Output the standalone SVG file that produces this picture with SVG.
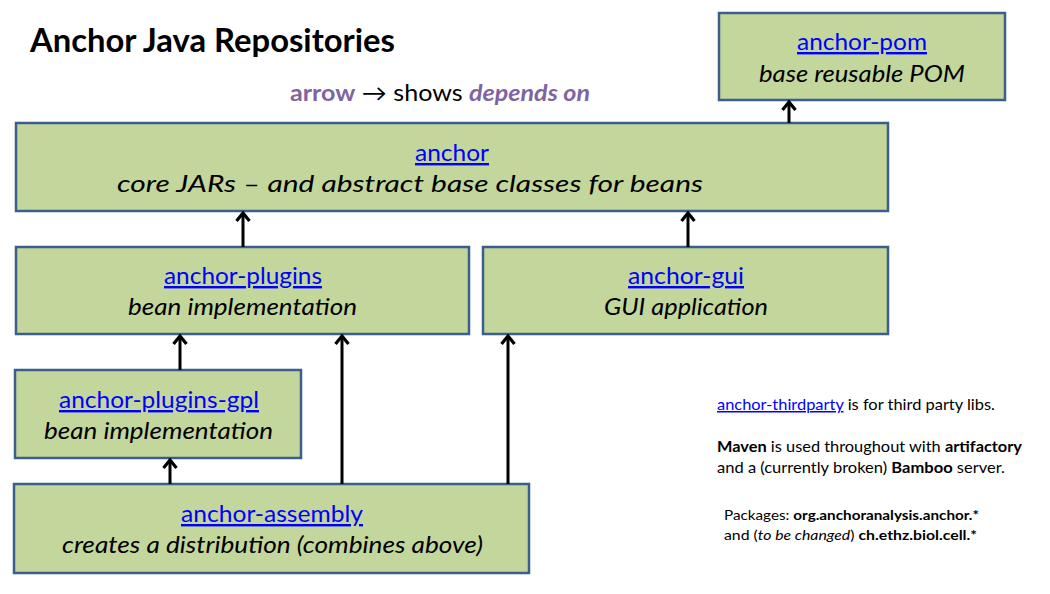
<svg xmlns="http://www.w3.org/2000/svg" width="1050" height="594" viewBox="0 0 1050 594">
<defs>
<style>
.box{fill:#C3D69B;stroke:#3A5F8C;stroke-width:2.5}
.t{font-family:Lato,"Open Sans","Liberation Sans",sans-serif;}
.lnk{fill:#0000FF;text-decoration:underline;font-size:24px}
.it{font-style:italic;fill:#000;font-size:24px}
.note{font-size:15px;fill:#000}
.pk{font-size:13.5px;fill:#000}
.b{font-weight:bold}
.conn{stroke:#000;stroke-width:3;fill:none}
</style>
<marker id="ah" markerUnits="userSpaceOnUse" viewBox="-10 -9 14 18" markerWidth="14" markerHeight="18" refX="0" refY="0" orient="auto" overflow="visible">
<path d="M -8 -6.5 L 0 0 L -8 6.5" fill="none" stroke="#000" stroke-width="3.2"/>
</marker>
</defs>
<rect width="1050" height="594" fill="#fff"/>
<text class="t b" x="30" y="52" font-size="33" textLength="365" lengthAdjust="spacingAndGlyphs">Anchor Java Repositories</text>
<text class="t" x="290" y="101" font-size="23" textLength="300" lengthAdjust="spacingAndGlyphs"><tspan class="b" fill="#8064A2">arrow</tspan><tspan fill="#000"> → shows </tspan><tspan class="b" font-style="italic" fill="#8064A2">depends on</tspan></text>

<g id="anchor-pom">
<rect class="box" x="719" y="13" width="286" height="87"/>
<text class="t lnk" x="862" y="50" text-anchor="middle" textLength="130" lengthAdjust="spacingAndGlyphs">anchor-pom</text>
<text class="t it" x="862" y="82" text-anchor="middle" textLength="206" lengthAdjust="spacingAndGlyphs">base reusable POM</text>
</g>
<g id="anchor">
<rect class="box" x="16" y="123" width="872" height="88"/>
<text class="t lnk" x="452" y="161" text-anchor="middle" textLength="74" lengthAdjust="spacingAndGlyphs">anchor</text>
<text class="t it" x="410" y="192" text-anchor="middle" textLength="586" lengthAdjust="spacingAndGlyphs">core JARs – and abstract base classes for beans</text>
</g>
<g id="anchor-plugins">
<rect class="box" x="16" y="247" width="453" height="87"/>
<text class="t lnk" x="243" y="284" text-anchor="middle" textLength="158" lengthAdjust="spacingAndGlyphs">anchor-plugins</text>
<text class="t it" x="242.500" y="315" text-anchor="middle" textLength="229" lengthAdjust="spacingAndGlyphs">bean implementation</text>
</g>
<g id="anchor-gui">
<rect class="box" x="483" y="247" width="405" height="87"/>
<text class="t lnk" x="686" y="284" text-anchor="middle" textLength="116" lengthAdjust="spacingAndGlyphs">anchor-gui</text>
<text class="t it" x="686" y="315" text-anchor="middle" textLength="164" lengthAdjust="spacingAndGlyphs">GUI application</text>
</g>
<g id="anchor-plugins-gpl">
<rect class="box" x="15" y="370" width="286" height="88"/>
<text class="t lnk" x="159" y="408" text-anchor="middle" textLength="200" lengthAdjust="spacingAndGlyphs">anchor-plugins-gpl</text>
<text class="t it" x="158.500" y="439" text-anchor="middle" textLength="229" lengthAdjust="spacingAndGlyphs">bean implementation</text>
</g>
<g id="anchor-assembly">
<rect class="box" x="14" y="484" width="515" height="89"/>
<text class="t lnk" x="272" y="522" text-anchor="middle" textLength="182" lengthAdjust="spacingAndGlyphs">anchor-assembly</text>
<text class="t it" x="272.500" y="553" text-anchor="middle" textLength="421" lengthAdjust="spacingAndGlyphs">creates a distribution (combines above)</text>
</g>

<g id="connectors">
<line class="conn" x1="789" y1="123" x2="789" y2="102" marker-end="url(#ah)"/>
<line class="conn" x1="243" y1="247" x2="243" y2="213" marker-end="url(#ah)"/>
<line class="conn" x1="688" y1="247" x2="688" y2="213" marker-end="url(#ah)"/>
<line class="conn" x1="180" y1="370" x2="180" y2="336" marker-end="url(#ah)"/>
<line class="conn" x1="170" y1="484" x2="170" y2="460" marker-end="url(#ah)"/>
<line class="conn" x1="342" y1="484" x2="342" y2="336" marker-end="url(#ah)"/>
<line class="conn" x1="508" y1="484" x2="508" y2="336" marker-end="url(#ah)"/>
</g>

<g id="notes">
<text class="t note" x="717" y="410" textLength="278" lengthAdjust="spacingAndGlyphs"><tspan fill="#0000FF" text-decoration="underline">anchor-thirdparty</tspan> is for third party libs.</text>
<text class="t note" x="717" y="452" textLength="305" lengthAdjust="spacingAndGlyphs"><tspan class="b">Maven</tspan> is used throughout with <tspan class="b">artifactory</tspan></text>
<text class="t note" x="717" y="473" textLength="288" lengthAdjust="spacingAndGlyphs">and a (currently broken) <tspan class="b">Bamboo</tspan> server.</text>
<text class="t pk" x="724" y="520" textLength="255" lengthAdjust="spacingAndGlyphs">Packages: <tspan class="b">org.anchoranalysis.anchor.*</tspan></text>
<text class="t pk" x="724" y="540" textLength="253" lengthAdjust="spacingAndGlyphs">and (<tspan font-style="italic">to be changed</tspan>) <tspan class="b">ch.ethz.biol.cell.*</tspan></text>
</g>
</svg>
